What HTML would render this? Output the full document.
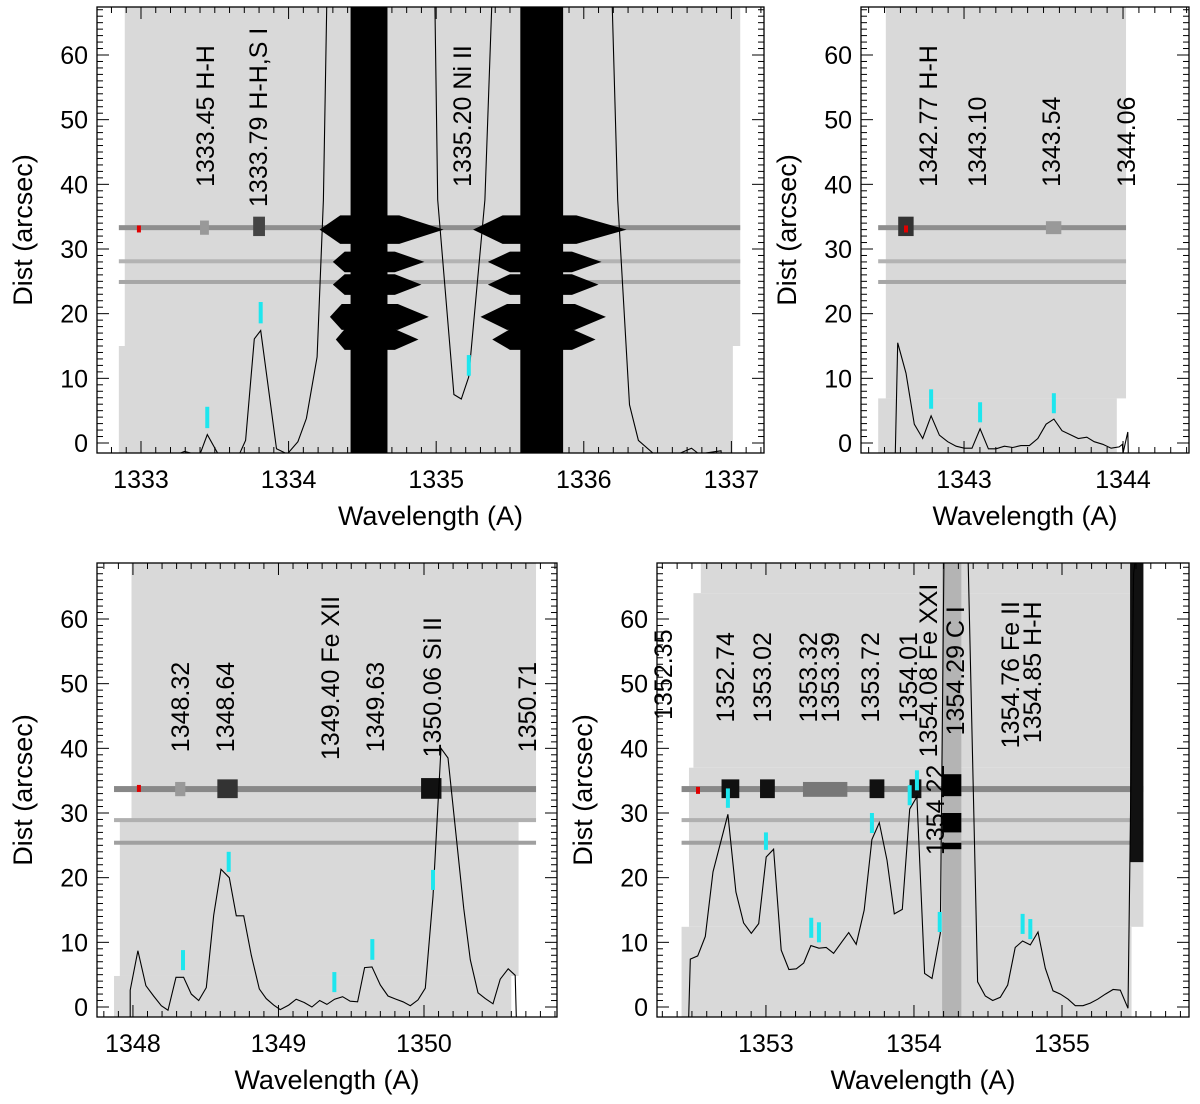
<!DOCTYPE html>
<html><head><meta charset="utf-8"><title>Spectra panels</title>
<style>
html,body{margin:0;padding:0;background:#fff;}
svg{display:block;font-family:"Liberation Sans",Arial,sans-serif;}
</style></head>
<body>
<svg id="fig" width="1200" height="1104" viewBox="0 0 1200 1104" xmlns="http://www.w3.org/2000/svg"></svg>
<script>
// ---------- data ----------
const p1Wave=[1333.165,1333.295,1333.397,1333.449,1333.542,1333.657,1333.709,1333.768,1333.811,1333.918,1333.991,1334.063,1334.121,1334.193,1334.236,1334.26,1334.99,1335.01,1335.12,1335.17,1335.22,1335.33,1335.38,1336.19,1336.23,1336.31,1336.37,1336.50,1336.64,1336.73,1336.78,1336.93,1336.94];
const p1Dist=[-2.5,-1.3,-1.9,1.3,-2.5,-2.2,0.4,16.1,17.4,-0.9,-1.7,0.2,3.8,13.3,37.6,70,70,37.6,7.5,6.8,10.2,37.6,70,70,37.6,5.9,0.4,-2.2,-1.7,-0.8,-1.7,-1.2,-3];
const p2Wave=[1342.568,1342.583,1342.635,1342.687,1342.740,1342.793,1342.845,1342.897,1342.950,1343.002,1343.050,1343.101,1343.153,1343.201,1343.254,1343.306,1343.358,1343.411,1343.464,1343.516,1343.565,1343.616,1343.668,1343.719,1343.772,1343.819,1343.873,1343.925,1343.976,1343.996,1344.000,1344.030,1344.033];
const p2Dist=[-1.6,15.5,10.8,2.9,0.7,4.2,1.2,0.2,-0.5,-0.8,-0.8,2.2,-0.9,-0.9,-0.5,-0.7,-0.4,-0.4,0.7,2.9,3.7,1.9,1.3,0.7,0.9,0.2,-0.2,-0.8,-0.6,-0.2,-1.6,1.7,-1.6];
const p3Wave=[1347.981,1347.981,1348.034,1348.089,1348.142,1348.195,1348.241,1348.296,1348.348,1348.401,1348.452,1348.504,1348.555,1348.605,1348.662,1348.710,1348.761,1348.813,1348.868,1348.916,1348.967,1349.012,1349.070,1349.122,1349.177,1349.230,1349.283,1349.333,1349.386,1349.441,1349.493,1349.544,1349.592,1349.643,1349.700,1349.753,1349.808,1349.856,1349.906,1349.959,1350.009,1350.062,1350.117,1350.165,1350.273,1350.318,1350.371,1350.421,1350.474,1350.524,1350.579,1350.627,1350.634];
const p3Dist=[-1.5,2.6,8.7,3.3,1.7,0.2,-0.5,4.6,4.6,2.0,1.0,3.0,14.2,21.3,20.0,14.1,14.1,8.0,2.8,1.3,0.3,-0.4,0.3,1.2,0.7,0,1.0,0.4,1.2,1.6,0.9,0.8,6.1,6.2,3.4,1.7,1.2,0.8,0.2,1.1,2.9,17.1,40,38.5,15.3,7.3,2.2,1.3,0.5,4.3,5.9,4.9,-1.5];
const p4Wave=[1352.478,1352.489,1352.539,1352.590,1352.642,1352.743,1352.797,1352.849,1352.901,1352.951,1353.002,1353.052,1353.103,1353.155,1353.205,1353.255,1353.304,1353.358,1353.407,1353.457,1353.514,1353.559,1353.610,1353.664,1353.716,1353.766,1353.818,1353.867,1353.921,1353.971,1354.020,1354.072,1354.122,1354.178,1354.203,1354.365,1354.430,1354.482,1354.532,1354.583,1354.633,1354.684,1354.734,1354.786,1354.838,1354.887,1354.939,1354.989,1355.041,1355.090,1355.142,1355.191,1355.241,1355.293,1355.345,1355.394,1355.446,1355.484,1355.50];
const p4Dist=[-1.5,7.4,7.9,10.9,20.9,29.8,17.8,13.0,11.4,12.9,23.2,24.4,8.8,5.8,5.9,6.8,9.5,9.1,9.2,8.3,10.1,11.5,9.7,15.0,25.9,28.5,22.7,14.4,15.1,30.6,32.5,5.2,4.4,11.4,70,70,3.9,1.7,1.0,1.5,3.4,9.2,10.2,9.6,11.6,6.0,2.5,2.0,1.2,0.2,0.2,0.6,1.2,2.0,2.7,2.6,-0.2,67,70];

const p1Labels=["1333.45 H-H","1333.79 H-H,S I","1335.20 Ni II"];
const p1LabelX=[1333.434,1333.793,1335.175];
const p1LabelY=[39.6,36.5,39.6];
const p2Labels=["1342.77 H-H","1343.10","1343.54","1344.06"];
const p2LabelX=[1342.773,1343.081,1343.547,1344.019];
const p2LabelY=[39.6,39.6,39.6,39.6];
const p3Labels=["1348.32","1348.64","1349.40 Fe XII","1349.63","1350.06 Si II","1350.71"];
const p3LabelX=[1348.323,1348.632,1349.354,1349.663,1350.055,1350.708];
const p3LabelY=[39.4,39.4,38.2,39.4,38.6,39.4];
const p4Labels=["1352.35","1352.74","1353.02","1353.32","1353.39","1353.72","1354.01","1354.08 Fe XXI","1354.22","1354.29 C I","1354.76 Fe II","1354.85 H-H"];
const p4LabelX=[1352.304,1352.723,1352.973,1353.284,1353.432,1353.703,1353.959,1354.095,1354.142,1354.277,1354.649,1354.797];
const p4LabelY=[44.4,44.0,44.0,44.0,44.0,44.0,44.0,38.6,23.5,42.0,40.0,40.8];

const p1MarkX=[1333.449,1333.811,1335.221];
const p1MarkLo=[2.3,18.5,10.4];
const p1MarkHi=[5.6,21.8,13.6];
const p2MarkX=[1342.793,1343.101,1343.565];
const p2MarkLo=[5.3,3.2,4.6];
const p2MarkHi=[8.3,6.3,7.7];
const p3MarkX=[1348.344,1348.658,1349.384,1349.645,1350.062];
const p3MarkLo=[5.7,20.9,2.3,7.3,18.1];
const p3MarkHi=[8.8,24.0,5.4,10.5,21.2];
const p4MarkX=[1352.743,1353.0,1353.306,1353.358,1353.716,1353.971,1354.020,1354.174,1354.734,1354.786];
const p4MarkLo=[30.8,24.3,10.7,10.0,26.9,31.2,33.5,11.6,11.3,10.5];
const p4MarkHi=[33.8,27.0,13.8,13.1,30.0,34.3,36.6,14.7,14.4,13.6];

const redX=[1332.986,1342.635,1348.041,1352.541];
const redY=[33.1,33.1,33.8,33.5];

const xTicks1=[1333,1334,1335,1336,1337];
const xTicks2=[1343,1344];
const xTicks3=[1348,1349,1350];
const xTicks4=[1353,1354,1355];
const yTicks=[0,10,20,30,40,50,60];

// ---------- drawing ----------
const NS="http://www.w3.org/2000/svg";
const svg=document.getElementById('fig');
function mk(tag,attrs,parent){const e=document.createElementNS(NS,tag);for(const k in attrs)e.setAttribute(k,attrs[k]);(parent||svg).appendChild(e);return e;}

function drawPanel(id,P){
  const g=mk('g',{});
  
  
  const xs=w=>P.L+(w-P.w0)*(P.R-P.L)/(P.w1-P.w0);
  const ys=v=>P.y0-v*(P.y0-P.y60)/60;
  const vTop=(P.y0-P.T)/((P.y0-P.y60)/60);
  const cp=mk('clipPath',{id:'clip-'+id},g);
  mk('rect',{x:P.L,y:P.T,width:P.R-P.L,height:P.B-P.T},cp);
  const img=mk('g',{'clip-path':'url(#clip-'+id+')'},g);
  
  
  mk('rect',{x:P.L,y:P.T,width:P.R-P.L,height:P.B-P.T,fill:'#fff'},img);
  P.regions.forEach(r=>{mk('rect',{x:xs(r[0]),y:ys(r[3]),width:xs(r[1])-xs(r[0]),height:ys(r[2])-ys(r[3]),fill:'#d9d9d9'},img);});
  P.bands.forEach(b=>{mk('rect',{x:xs(b[0]),y:ys(b[2])-b[3]/2,width:xs(b[1])-xs(b[0]),height:b[3],fill:b[4]},img);});
  (P.blobs||[]).forEach(b=>{mk('rect',{x:xs(b[0]),y:ys(b[3]),width:xs(b[1])-xs(b[0]),height:ys(b[2])-ys(b[3]),fill:b[4]},img);});
  (P.wings||[]).forEach(wg=>{
    const c=wg[0],l=wg[1],cl=wg[2],cr=wg[3],r=wg[4],h=wg[5];
    mk('polygon',{points:[xs(l)+','+ys(c),xs(cl)+','+ys(c+h),xs(cr)+','+ys(c+h),xs(r)+','+ys(c),xs(cr)+','+ys(c-h),xs(cl)+','+ys(c-h)].join(' '),fill:'#000'},img);
  });
  (P.cores||[]).forEach(c=>{mk('rect',{x:xs(c[0]),y:P.T,width:xs(c[1])-xs(c[0]),height:P.B-P.T,fill:'#000'},img);});
  const d=P.wave.map((w,i)=>(i?'L':'M')+xs(w).toFixed(1)+','+ys(P.dist[i]).toFixed(1)).join('');
  const pth=mk('path',{d:d,fill:'none',stroke:'#000','stroke-width':1.1},img);
  
  
  P.mx.forEach((w,i)=>{
    const m=mk('rect',{x:xs(w)-2,y:ys(P.mhi[i]),width:4,height:ys(P.mlo[i])-ys(P.mhi[i]),fill:'#1ee6ee'},img);
    
    
  });
  const rm=mk('rect',{x:xs(P.red[0])-2,y:ys(P.red[1])-3.5,width:4,height:7,fill:'#e00000'},img);
  
  
  P.labels.forEach((t,i)=>{
    const x=xs(P.lx[i]),y=ys(P.ly[i]);
    const te=mk('text',{x:0,y:0,transform:'translate('+(x+9)+','+y+') rotate(-90)','font-size':25,fill:'#000'},g);
    te.textContent=t;
    
    
  });
  const fr=mk('rect',{x:P.L,y:P.T,width:P.R-P.L,height:P.B-P.T,fill:'none',stroke:'#000','stroke-width':1.3},g);
  
  
  const tk=mk('g',{stroke:'#000','stroke-width':1},g);
  
  
  const wStart=Math.ceil(P.w0*10), wEnd=Math.floor(P.w1*10);
  for(let k=wStart;k<=wEnd;k++){
    const x=xs(k/10),len=(k%10===0)?12:6;
    mk('line',{x1:x,y1:P.B,x2:x,y2:P.B-len},tk);
    mk('line',{x1:x,y1:P.T,x2:x,y2:P.T+len},tk);
  }
  for(let v=0;v<=Math.floor(vTop);v++){
    const y=ys(v),len=(v%10===0)?12:6;
    mk('line',{x1:P.L,y1:y,x2:P.L+len,y2:y},tk);
    mk('line',{x1:P.R,y1:y,x2:P.R-len,y2:y},tk);
  }
  P.xt.forEach(t=>{
    const te=mk('text',{x:xs(t),y:P.B+35,'font-size':25,'text-anchor':'middle'},g);
    te.textContent=String(t);
    
    
  });
  yTicks.forEach(t=>{
    const te=mk('text',{x:P.L-9,y:ys(t)+9,'font-size':25,'text-anchor':'end'},g);
    te.textContent=String(t);
    
    
  });
  const xt=mk('text',{x:(P.L+P.R)/2,y:P.B+72,'font-size':27,'text-anchor':'middle'},g);
  xt.textContent='Wavelength (A)';
  
  
  const yt=mk('text',{x:0,y:0,transform:'translate('+(P.L-65)+','+((P.T+P.B)/2)+') rotate(-90)','font-size':27,'text-anchor':'middle'},g);
  yt.textContent='Dist (arcsec)';
  
  
}

const topBands=(a,b)=>[[a,b,33.3,5,'#8e8e8e'],[a,b,28.1,4,'#b3b3b3'],[a,b,24.9,4,'#a6a6a6']];
const botBands=(a,b)=>[[a,b,33.7,6,'#888'],[a,b,28.9,4,'#b0b0b0'],[a,b,25.4,4,'#a0a0a0']];

drawPanel('panel1',{L:97,R:764,T:7,B:453,w0:1332.702,w1:1337.221,y0:443,y60:55,
  regions:[[1332.89,1337.06,15,70],[1332.85,1337.01,-5,15]],
  bands:topBands(1332.85,1337.06),
  blobs:[[1333.76,1333.84,32,35,'#444'],[1333.40,1333.46,32.2,34.4,'#999']],
  cores:[[1334.42,1334.67],[1335.57,1335.86]],
  wings:[[33,1334.21,1334.35,1334.75,1335.05,2.2],[28,1334.30,1334.38,1334.72,1334.92,1.6],[24.5,1334.30,1334.38,1334.72,1334.90,1.6],[19.5,1334.28,1334.36,1334.74,1334.95,2],[16,1334.32,1334.38,1334.72,1334.88,1.6],
         [33,1335.25,1335.45,1335.95,1336.29,2.2],[28,1335.35,1335.50,1335.92,1336.12,1.6],[24.5,1335.35,1335.50,1335.92,1336.10,1.6],[19.5,1335.30,1335.48,1335.94,1336.15,2],[16,1335.38,1335.50,1335.92,1336.08,1.6]],
  wave:p1Wave,dist:p1Dist,mx:p1MarkX,mlo:p1MarkLo,mhi:p1MarkHi,red:[redX[0],redY[0]],
  labels:p1Labels,lx:p1LabelX,ly:p1LabelY,xt:xTicks1});

drawPanel('panel2',{L:861,R:1189,T:7,B:453,w0:1342.352,w1:1344.415,y0:443,y60:55,
  regions:[[1342.508,1344.019,6.9,70],[1342.460,1343.961,-5,6.9]],
  bands:topBands(1342.460,1344.019),
  blobs:[[1342.586,1342.683,32,35,'#333'],[1343.515,1343.612,32.3,34.3,'#999']],
  wave:p2Wave,dist:p2Dist,mx:p2MarkX,mlo:p2MarkLo,mhi:p2MarkHi,red:[redX[1],redY[1]],
  labels:p2Labels,lx:p2LabelX,ly:p2LabelY,xt:xTicks2});

drawPanel('panel3',{L:97,R:557,T:563,B:1017,w0:1347.753,w1:1350.914,y0:1007,y60:619,
  regions:[[1347.99,1350.77,29,70],[1347.91,1350.65,4.8,29],[1347.87,1350.60,-5,4.8]],
  bands:botBands(1347.87,1350.77),
  blobs:[[1348.58,1348.72,32.3,35.2,'#333'],[1349.98,1350.12,32.2,35.4,'#111'],[1348.29,1348.36,32.6,34.8,'#999']],
  wave:p3Wave,dist:p3Dist,mx:p3MarkX,mlo:p3MarkLo,mhi:p3MarkHi,red:[redX[2],redY[2]],
  labels:p3Labels,lx:p3LabelX,ly:p3LabelY,xt:xTicks3});

drawPanel('panel4',{L:657,R:1189,T:563,B:1017,w0:1352.264,w1:1355.858,y0:1007,y60:619,
  regions:[[1352.56,1355.55,64,70],[1352.51,1355.55,37,64],[1352.48,1355.55,12.4,37],[1352.43,1355.47,-5,12.4]],
  bands:botBands(1352.43,1355.55),
  blobs:[[1352.70,1352.82,32.3,35.2,'#111'],[1352.96,1353.06,32.3,35.2,'#111'],[1353.70,1353.80,32.3,35.2,'#111'],[1353.97,1354.05,32.3,35.2,'#111'],
         [1354.19,1354.32,-5,70,'#b4b4b4'],[1354.19,1354.32,32.6,36,'#000'],[1354.19,1354.32,27,30,'#000'],[1354.19,1354.32,24.4,25.4,'#000'],
         [1355.46,1355.55,22.4,70,'#111'],[1353.25,1353.55,32.5,34.8,'#777']],
  wave:p4Wave,dist:p4Dist,mx:p4MarkX,mlo:p4MarkLo,mhi:p4MarkHi,red:[redX[3],redY[3]],
  labels:p4Labels,lx:p4LabelX,ly:p4LabelY,xt:xTicks4});
</script>
</body></html>
